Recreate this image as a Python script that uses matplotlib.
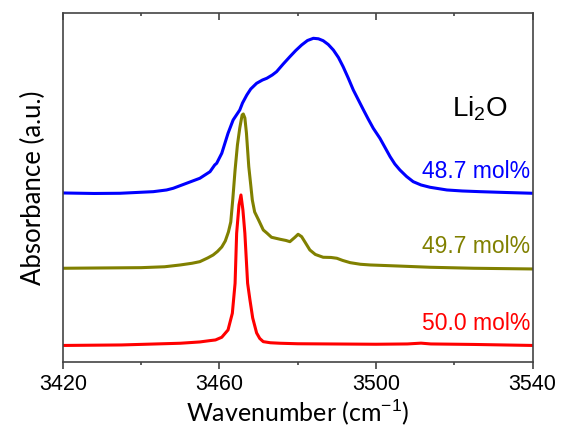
import matplotlib
matplotlib.use("Agg")
import matplotlib.pyplot as plt

plt.rcParams['font.family'] = ['Liberation Sans', 'DejaVu Sans']
plt.rcParams['mathtext.fontset'] = 'custom'
plt.rcParams['mathtext.rm'] = 'Liberation Sans'
plt.rcParams['mathtext.default'] = 'rm'

# ~~~ spectra (net absorbance, a.u.) ~~~
wn_red = [3420, 3435, 3450, 3455, 3457.5, 3459, 3460.6, 3462.2, 3463.3, 3464.0,
          3464.4, 3465.0, 3465.5, 3466.0, 3466.5, 3467.2, 3467.8, 3468.5, 3469.5,
          3470.3, 3471.2, 3473, 3475.5, 3480, 3488, 3500, 3508, 3511.5, 3514,
          3525, 3540]
abs_red = [0.0, 0.005, 0.022, 0.035, 0.048, 0.055, 0.082, 0.155, 0.322, 0.622,
           1.122, 1.405, 1.505, 1.355, 1.122, 0.622, 0.455, 0.275, 0.125,
           0.07, 0.038, 0.027, 0.022, 0.017, 0.015, 0.012, 0.015, 0.023, 0.015,
           0.01, 0.0]

wn_olive = [3420, 3430, 3440, 3446, 3450, 3453, 3455, 3457, 3458.4, 3459.5,
            3460.6, 3461.5, 3462.3, 3462.9, 3463.4, 3464.0, 3464.6, 3465.2,
            3465.8, 3466.1, 3466.5, 3466.9, 3467.5, 3468.0, 3468.4, 3469.0,
            3470.0, 3471.2, 3472.1, 3473.3, 3475.5, 3477, 3478.0, 3479.3,
            3480.1, 3481.0, 3482.0, 3483.1, 3484.5, 3486.5, 3488.5, 3490.0,
            3491.5, 3493.4, 3496, 3498.5, 3505.3, 3513.8, 3525, 3540]
abs_olive = [0.0, 0.003, 0.006, 0.015, 0.033, 0.05, 0.066, 0.103, 0.133, 0.168,
             0.213, 0.273, 0.363, 0.463, 0.683, 0.983, 1.233, 1.403,
             1.533, 1.543, 1.503, 1.353, 1.016, 0.833, 0.683, 0.563,
             0.483, 0.383, 0.353, 0.31, 0.29, 0.278, 0.266, 0.31,
             0.34, 0.316, 0.253, 0.183, 0.138, 0.11, 0.108, 0.10,
             0.078, 0.056, 0.04, 0.033, 0.023, 0.01, 0.0, -0.007]

wn_blue = [3420, 3428, 3434.6, 3443.1, 3446.5, 3448.2, 3451.6, 3455.0, 3457.6,
           3458.8, 3459.3, 3460.6, 3462.2, 3463.5, 3465.2, 3465.9, 3467.0,
           3468.0, 3469.5, 3471.0, 3472.1, 3473.5, 3474.6, 3476.3, 3478.0,
           3479.5, 3481.0, 3482.5, 3484.0, 3485.3, 3486.5, 3487.8, 3489.1,
           3490.4, 3491.6, 3492.9, 3494.2, 3495.5, 3496.8, 3498.0, 3499.3,
           3501.0, 3502.3, 3503.6, 3504.8, 3506.1, 3507.8, 3509.5, 3511.5,
           3513.8, 3518.1, 3522, 3526.6, 3533, 3540]
abs_blue = [0.003, -0.002, 0.0, 0.016, 0.033, 0.05, 0.10, 0.15, 0.216,
            0.283, 0.30, 0.40, 0.60, 0.733, 0.833, 0.903, 0.983,
            1.043, 1.10, 1.133, 1.15, 1.183, 1.216, 1.293, 1.366,
            1.428, 1.483, 1.528, 1.55, 1.545, 1.526, 1.488, 1.433,
            1.358, 1.266, 1.153, 1.033, 0.933, 0.833, 0.743, 0.65,
            0.55, 0.458, 0.366, 0.293, 0.233, 0.168, 0.116, 0.083,
            0.06, 0.033, 0.023, 0.016, 0.008, 0.0]

labels = ["50.0 mol%", "49.7 mol%", "48.7 mol%"]
colors = ["#ff0000", "#808000", "#0000ff"]
offsets = [0.162, 0.934, 1.684]

major_ticks = [3420, 3460, 3500, 3540]
minor_ticks = [3440, 3480, 3520]

spectra = [(wn_red, abs_red), (wn_olive, abs_olive), (wn_blue, abs_blue)]

fig = plt.figure(figsize=(5.66, 4.29), dpi=100)
ax = fig.add_axes([0.111, 0.157, 0.830, 0.812])

for (wn, ab), off, c, lab in zip(spectra, offsets, colors, labels):
    ax.plot(wn, [a + off for a in ab], color=c, lw=2.2, solid_joinstyle='round')
    ax.text(3539.4, off + 0.155, lab, color=c, fontsize=16.5,
            ha='right', va='baseline')

ax.text(3526.6, 2.447, "Li$_2$O", fontsize=20, ha='center', va='baseline')

ax.set_xlim(3420, 3540)
ax.set_ylim(0, 3.484)
ax.set_xticks(major_ticks)
ax.set_xticks(minor_ticks, minor=True)
ax.tick_params(axis='x', which='both', direction='out', top=False,
               labelsize=15.5, colors='#333333', labelcolor='black', pad=4)
ax.tick_params(axis='x', which='major', length=4.8, width=1.1)
ax.tick_params(axis='x', which='minor', length=2.4, width=1.1)
ax.set_yticks([])

# inward ticks on the top spine
top = ax.secondary_xaxis('top')
top.set_xticks(major_ticks)
top.set_xticks(minor_ticks, minor=True)
top.tick_params(axis='x', which='both', direction='in', labeltop=False,
                colors='#333333', width=1.1)
top.tick_params(axis='x', which='major', length=4.8)
top.tick_params(axis='x', which='minor', length=2.4)
top.spines['top'].set_visible(False)

for s in ax.spines.values():
    s.set_color('#444444')
    s.set_linewidth(1.2)

ax.set_xlabel("Wavenumber (cm$^{-1}$)", fontsize=18, family=['Lato', 'DejaVu Sans'],
              labelpad=2)
ax.set_ylabel("Absorbance (a.u.)", fontsize=18.5, family=['Lato', 'DejaVu Sans'],
              labelpad=12)

fig.savefig("out.png", dpi=100)
